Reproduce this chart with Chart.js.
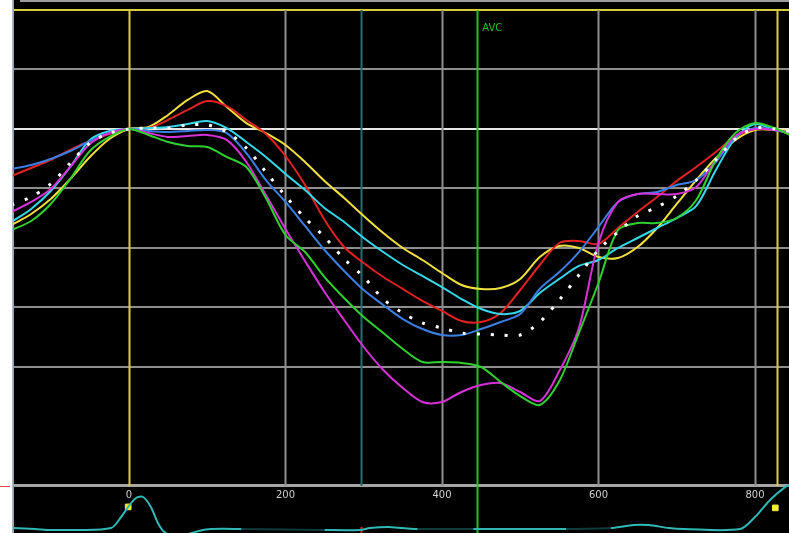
<!DOCTYPE html>
<html>
<head>
<meta charset="utf-8">
<script src="https://cdn.jsdelivr.net/npm/chart.js@4.4.1/dist/chart.umd.min.js"></script>
<style>
  html, body { margin: 0; padding: 0; background: #ffffff; }
  #wrap { width: 789px; height: 533px; }
</style>
</head>
<body>
<div id="wrap"><canvas id="c" width="789" height="533"></canvas></div>
<script>
// ---- time axis (ms) shared by the strain curves ----
const times = [-150,-125,-100,-75,-50,-25,0,25,50,75,100,125,150,175,200,225,250,275,300,325,350,375,400,425,450,475,500,525,550,575,600,625,650,675,700,725,750,775,800,825,850];

// ---- strain curves (%) ----
const yellowVals = [-8.07,-7.14,-5.88,-4.20,-2.35,-0.84,0,0.17,1.18,2.44,3.19,1.85,0.50,-0.34,-1.34,-2.77,-4.37,-5.80,-7.31,-8.74,-10.0,-11.01,-12.10,-13.11,-13.44,-13.36,-12.60,-10.76,-9.83,-10.0,-10.76,-10.84,-9.92,-8.32,-6.30,-4.29,-2.44,-0.92,-0.08,-0.08,-0.17];
const redVals = [-3.95,-3.28,-2.60,-1.76,-1.01,-0.42,0,0.08,0.76,1.60,2.35,1.93,0.76,-0.42,-2.27,-4.71,-7.65,-9.92,-11.26,-12.44,-13.44,-14.45,-15.29,-16.13,-16.22,-15.46,-13.53,-11.43,-9.58,-9.41,-9.66,-8.32,-6.97,-5.71,-4.37,-3.19,-1.93,-0.67,0,-0.08,-0.34];
const cyanVals = [-7.81,-6.72,-5.21,-3.19,-0.92,-0.17,0,0.08,0.17,0.42,0.67,0.08,-1.09,-2.35,-3.78,-5.13,-6.64,-7.81,-9.16,-10.34,-11.43,-12.35,-13.28,-14.29,-15.13,-15.55,-15.29,-13.78,-12.60,-11.51,-11.01,-10.0,-9.16,-8.32,-7.48,-6.47,-3.45,-0.76,0.42,-0.08,-0.34];
const blueVals = [-3.36,-3.03,-2.52,-1.85,-1.01,-0.34,0,-0.17,-0.25,-0.17,-0.08,-0.34,-2.02,-4.29,-6.13,-8.15,-10.17,-11.93,-13.53,-14.79,-15.97,-16.81,-17.31,-17.31,-16.81,-16.22,-15.55,-13.44,-12.02,-10.34,-8.24,-6.13,-5.46,-5.29,-4.71,-4.29,-2.77,-0.67,0.08,-0.08,-0.42];
const magentaVals = [-6.97,-6.13,-5.04,-3.19,-1.26,-0.34,0,-0.34,-0.67,-0.59,-0.50,-0.92,-2.77,-5.55,-8.40,-11.09,-13.70,-16.05,-18.32,-20.25,-21.76,-22.94,-22.94,-22.10,-21.51,-21.34,-22.10,-22.86,-20.34,-16.72,-9.58,-6.13,-5.46,-5.46,-5.46,-4.87,-2.60,-0.59,0,-0.08,-0.42];
const greenVals = [-8.49,-7.73,-6.30,-4.20,-1.85,-0.67,0,-0.50,-1.09,-1.43,-1.51,-2.35,-3.19,-5.80,-8.91,-10.34,-12.44,-14.20,-15.80,-17.14,-18.49,-19.58,-19.58,-19.66,-20.0,-21.26,-22.44,-23.19,-21.18,-17.14,-12.94,-8.49,-7.90,-7.90,-7.48,-5.97,-2.60,-0.34,0.50,0.08,-0.67];
const whiteVals = [-6.39,-5.71,-4.62,-2.86,-1.18,-0.34,0,0.08,0.08,0.34,0.34,-0.25,-1.60,-3.61,-5.63,-7.48,-9.08,-10.92,-12.44,-14.29,-15.46,-16.30,-16.72,-17.14,-17.23,-17.31,-17.31,-16.22,-14.37,-12.27,-10.17,-8.66,-7.31,-6.55,-5.63,-4.29,-2.60,-0.84,0.08,0,-0.25];

// ---- ECG trace (arbitrary units) ----
const ecgTimes = [-148,-120,-101,-72,-23,-10,-1,9,18,28,37,45,60,89,105,144,250,295,308,331,350,369,440,559,616,645,664,690,709,781,800,819,838,846];
const ecgVals  = [0.03,0,-0.03,-0.03,0.03,0.375,0.69,0.97,1.0,0.69,0.19,-0.09,-0.25,-0.06,0,0,-0.03,-0.03,0.03,0.06,0.03,0,0,0,0.03,0.125,0.125,0.03,0,0,0.375,0.9,1.3,1.4];
const ecgDimRanges = [[144,250],[369,440],[559,616]];
const ecgMarkerTimes = [-1, 826];
const ecgMarkerVals = [0.69, 0.66];

// ---- axes / markers ----
const xTickValues = [0, 200, 400, 600, 800];
const yGridValues = [10, 5, 0, -5, -10, -15, -20, -30];
const eventTimes = { start: 0, teal: 297, avc: 445, end: 828 };
const eventLabels = { avc: 'AVC' };

const COL = {
  grid: '#8e8e8e', zero: '#e6e6e6', yel: '#d8cd3a', axis: '#a6a6a6',
  teal: '#1f6f70', avc: '#25c025', ecg: '#2fb8b4', ecgDim: '#0e3b3b'
};

function pts(xs, ys) { return xs.map((t, i) => ({ x: t, y: ys[i] })); }

function curve(label, vals, color, extra) {
  return Object.assign({
    label, data: pts(times, vals), borderColor: color, borderWidth: 2,
    pointRadius: 0, tension: 0.3, yAxisID: 'y', fill: false
  }, extra || {});
}

const datasets = [
  curve('white', whiteVals, '#ffffff', { borderDash: [3, 11], borderWidth: 3 }),
  curve('green', greenVals, '#2fd02f'),
  curve('magenta', magentaVals, '#d632d8'),
  curve('blue', blueVals, '#3c7fe2'),
  curve('cyan', cyanVals, '#35d8ea'),
  curve('red', redVals, '#e22222'),
  curve('yellow', yellowVals, '#f2e040'),
  {
    label: 'ecg', data: pts(ecgTimes, ecgVals), yAxisID: 'y2',
    borderColor: COL.ecg, borderWidth: 2, pointRadius: 0, tension: 0.3,
    segment: {
      borderColor: c => {
        const t = (c.p0.parsed.x + c.p1.parsed.x) / 2;
        return ecgDimRanges.some(r => t > r[0] && t < r[1]) ? COL.ecgDim : COL.ecg;
      }
    }
  },
  {
    label: 'ecg markers', type: 'scatter', data: pts(ecgMarkerTimes, ecgMarkerVals), yAxisID: 'y2',
    pointStyle: 'rect', pointRadius: 4, hoverRadius: 4, backgroundColor: '#f0ee30', borderColor: '#f0ee30', showLine: false
  }
];

const markerPlugin = {
  id: 'markers',
  beforeDraw(chart) {
    const { ctx, chartArea: a } = chart;
    ctx.save();
    ctx.fillStyle = '#000000';
    ctx.fillRect(a.left, 0, chart.width - a.left, chart.height);
    ctx.restore();
  },
  beforeDatasetsDraw(chart) {
    const { ctx, scales: { x, y }, chartArea: a } = chart;
    const top = y.getPixelForValue(10), bot = y.getPixelForValue(-30);
    ctx.save();
    const vline = (t, color, w, y0, y1) => {
      const px = Math.round(x.getPixelForValue(t)) + 0.5;
      ctx.strokeStyle = color; ctx.lineWidth = w;
      ctx.beginPath(); ctx.moveTo(px, y0); ctx.lineTo(px, y1); ctx.stroke();
    };
    xTickValues.forEach(t => { if (t !== eventTimes.start) vline(t, COL.grid, 2, top, bot); });
    vline(eventTimes.start, COL.yel, 2, top, bot);
    vline(eventTimes.end, COL.yel, 2, top, bot);
    vline(eventTimes.teal, COL.teal, 2, top, bot);
    vline(eventTimes.avc, COL.avc, 2, top, a.bottom);
    // red tick on the ECG strip
    const tp = Math.round(x.getPixelForValue(eventTimes.teal)) + 0.5;
    ctx.strokeStyle = '#e02828'; ctx.lineWidth = 2;
    ctx.beginPath(); ctx.moveTo(tp, a.bottom - 6); ctx.lineTo(tp, a.bottom); ctx.stroke();
    // AVC label
    ctx.fillStyle = COL.avc;
    ctx.font = '10px "DejaVu Sans", sans-serif';
    ctx.textBaseline = 'alphabetic';
    ctx.fillText(eventLabels.avc, x.getPixelForValue(eventTimes.avc) + 5, 31);
    ctx.restore();
  },
  afterDraw(chart) {
    const { ctx, chartArea: a } = chart;
    ctx.save();
    // top frame strip
    ctx.strokeStyle = '#9c9c9c'; ctx.lineWidth = 2;
    ctx.beginPath(); ctx.moveTo(a.left + 7, 1); ctx.lineTo(chart.width, 1); ctx.stroke();
    // left frame edge
    ctx.strokeStyle = '#aab6c8'; ctx.lineWidth = 1;
    ctx.beginPath(); ctx.moveTo(a.left - 0.5, 0); ctx.lineTo(a.left - 0.5, chart.height); ctx.stroke();
    // small red mark left of axis
    const ay = chart.scales.y.getPixelForValue(-30);
    ctx.strokeStyle = '#e04848'; ctx.lineWidth = 1;
    ctx.beginPath(); ctx.moveTo(0, ay + 0.5); ctx.lineTo(a.left - 3, ay + 0.5); ctx.stroke();
    ctx.restore();
  }
};

new Chart(document.getElementById('c'), {
  type: 'line',
  data: { datasets },
  options: {
    responsive: false,
    animation: false,
    devicePixelRatio: 1,
    layout: { autoPadding: false, padding: { left: 13, top: 0, right: 0, bottom: 0 } },
    plugins: { legend: { display: false }, tooltip: { enabled: false } },
    scales: {
      x: {
        type: 'linear', min: -148.2, max: 843.5,
        position: { y: -30 },
        afterBuildTicks: s => { s.ticks = xTickValues.map(v => ({ value: v })); },
        grid: { display: false, drawTicks: false },
        border: { display: false },
        ticks: {
          color: '#cfcfcf', padding: 3, maxRotation: 0,
          font: { family: '"DejaVu Sans", sans-serif', size: 10 },
          callback: v => String(v)
        }
      },
      y: {
        type: 'linear', min: -33.95, max: 10.84,
        afterBuildTicks: s => { s.ticks = yGridValues.map(v => ({ value: v })); },
        ticks: { display: false },
        grid: {
          drawTicks: false,
          color: c => c.tick.value === 0 ? COL.zero : (c.tick.value === 10 ? COL.yel : (c.tick.value === -30 ? COL.axis : COL.grid)),
          lineWidth: c => c.tick.value === -30 ? 3 : 2
        },
        border: { display: true, color: '#9aa0a8', width: 2 }
      },
      y2: {
        type: 'linear', display: false, min: -0.125, max: 16.53
      }
    }
  },
  plugins: [markerPlugin]
});
</script>
</body>
</html>
